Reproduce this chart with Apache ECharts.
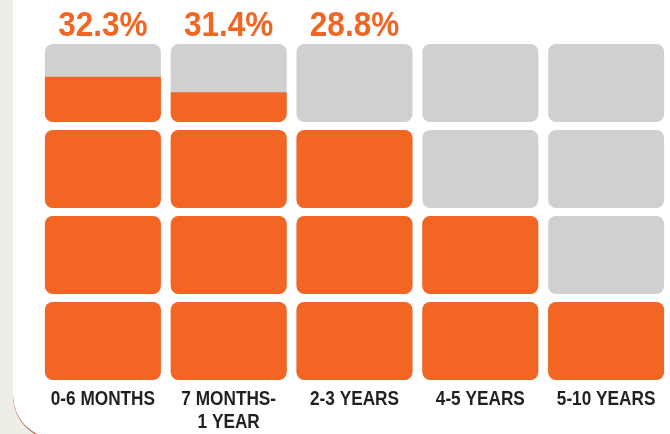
<!DOCTYPE html>
<html>
<head>
<meta charset="utf-8">
<script src="https://cdn.jsdelivr.net/npm/echarts@6/dist/echarts.min.js"></script>
<style>
  html, body { margin: 0; padding: 0; background: #eeede6; }
  #chart { width: 670px; height: 434px; }
</style>
</head>
<body>
<div id="chart"></div>
<script>
// tenure buckets along the bottom
const categories = ['0-6 MONTHS', '7 MONTHS-\n1 YEAR', '2-3 YEARS', '4-5 YEARS', '5-10 YEARS']
// how many of the 4 tiles are filled (orange) in each column
const filledTiles = [3.58, 3.38, 3, 2, 1]
// headline labels over the first columns
const topLabels = ['32.3%', '31.4%', '28.8%', '', '']
const tileRows = 4

const ORANGE = '#f26522'
const GRAY = '#cfd0cf'
const FONT = '"Liberation Sans", Arial, sans-serif'

// one item per tile: [column, row, fill share of that tile]
const tiles = []
categories.forEach((cat, c) => {
  for (let r = 0; r < tileRows; r++) {
    const share = Math.max(0, Math.min(1, filledTiles[c] - r))
    tiles.push([c, r, share])
  }
})

const chart = echarts.init(document.getElementById('chart'))

const renderTile = (params, api) => {
  const c = api.value(0)
  const r = api.value(1)
  const share = api.value(2)
  const bottom = api.coord([c, r])
  const top = api.coord([c, r + 1])
  const w = api.size([1, 0])[0] * 0.922
  const x = bottom[0] - w / 2
  const y0 = top[1] + 4
  const y1 = bottom[1] - 4
  const h = y1 - y0
  const children = [{
    type: 'rect',
    shape: { x: x, y: y0, width: w, height: h, r: 8 },
    style: { fill: GRAY }
  }]
  if (share > 0) {
    const fh = h * share
    children.push({
      type: 'rect',
      shape: { x: x, y: y1 - fh, width: w, height: fh, r: share >= 1 ? 8 : [0, 0, 8, 8] },
      style: { fill: ORANGE }
    })
  }
  // condensed-looking text: squeeze a regular sans horizontally
  if (r === tileRows - 1 && topLabels[c]) {
    children.push({
      type: 'text',
      x: bottom[0],
      y: y0 - 18,
      scaleX: 0.9,
      style: {
        text: topLabels[c],
        x: 0, y: 0,
        align: 'center',
        verticalAlign: 'middle',
        fill: ORANGE,
        font: 'bold 35px ' + FONT
      }
    })
  }
  if (r === 0) {
    children.push({
      type: 'text',
      x: bottom[0],
      y: y1 + 8,
      scaleX: 0.82,
      style: {
        text: categories[c],
        x: 0, y: 0,
        align: 'center',
        verticalAlign: 'top',
        lineHeight: 23,
        fill: '#231f20',
        font: 'bold 21px ' + FONT
      }
    })
  }
  return { type: 'group', children: children }
}

chart.setOption({
  backgroundColor: '#eeede6',
  animation: false,
  graphic: [{
    type: 'rect',
    z: -10,
    shape: { x: 13, y: -20, width: 700, height: 459, r: [0, 0, 0, 44] },
    style: { fill: '#ffffff', shadowColor: '#b5482a', shadowOffsetY: 1, shadowBlur: 0 }
  }],
  grid: { left: 40, right: 1, top: 40, bottom: 50 },
  xAxis: {
    type: 'category',
    data: categories,
    axisLine: { show: false },
    axisTick: { show: false },
    axisLabel: { show: false }
  },
  yAxis: { type: 'value', min: 0, max: tileRows, show: false, splitLine: { show: false } },
  series: [{
    type: 'custom',
    renderItem: renderTile,
    data: tiles,
    silent: true
  }]
})
</script>
</body>
</html>
